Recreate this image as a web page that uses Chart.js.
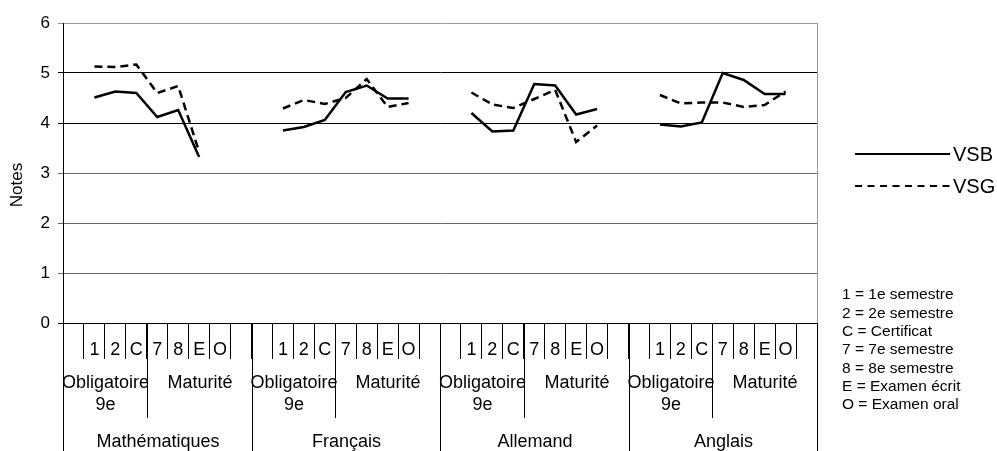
<!DOCTYPE html>
<html>
<head>
<meta charset="utf-8">
<script src="https://cdn.jsdelivr.net/npm/chart.js@4.4.0/dist/chart.umd.min.js"></script>
<style>
html, body { margin: 0; padding: 0; background: #fff; }
#wrap { width: 997px; height: 451px; }
</style>
</head>
<body>
<div id="wrap"><canvas id="myChart"></canvas></div>
<script>
const subjects = ['Mathématiques', 'Français', 'Allemand', 'Anglais'];
const periods = ['', '1', '2', 'C', '7', '8', 'E', 'O', ''];
const levels = ['Obligatoire', 'Maturité'];

// notes per subject, in order 1, 2, C, 7, 8, E, O
const vsbMath = [4.51, 4.63, 4.60, 4.12, 4.26, 3.32, null];
const vsgMath = [5.13, 5.12, 5.17, 4.60, 4.74, 3.42, null];
const vsbFr = [3.85, 3.92, 4.06, 4.62, 4.75, 4.49, 4.49];
const vsgFr = [4.29, 4.46, 4.38, 4.50, 4.88, 4.32, 4.40];
const vsbAll = [4.20, 3.83, 3.85, 4.78, 4.75, 4.17, 4.28];
const vsgAll = [4.61, 4.37, 4.30, 4.48, 4.66, 3.62, 3.95];
const vsbAng = [3.97, 3.93, 4.01, 5.00, 4.86, 4.58, 4.58];
const vsgAng = [4.56, 4.39, 4.41, 4.41, 4.32, 4.36, 4.63];

const notes = [
    '1 = 1e semestre',
    '2 = 2e semestre',
    'C = Certificat',
    '7 = 7e semestre',
    '8 = 8e semestre',
    'E = Examen écrit',
    'O = Examen oral'
];

const FONT = 'Liberation Sans, Arial, sans-serif';

// one blank slot before and after each subject
const labels = subjects.flatMap(() => periods);
const pad = arr => [null, ...arr, null];
const vsb = [vsbMath, vsbFr, vsbAll, vsbAng].flatMap(pad);
const vsg = [vsgMath, vsgFr, vsgAll, vsgAng].flatMap(pad);

const data = {
    labels: labels,
    datasets: [{
        label: 'VSB',
        data: vsb,
        borderColor: '#000',
        borderWidth: 2.5,
        pointRadius: 0,
        tension: 0,
        spanGaps: false
    }, {
        label: 'VSG',
        data: vsg,
        borderColor: '#000',
        borderWidth: 2.5,
        borderDash: [8, 5],
        pointRadius: 0,
        tension: 0,
        spanGaps: false
    }]
};

// group labels, boundary lines, legend and key
const extras = {
    id: 'extras',
    afterDraw(chart) {
        const ctx = chart.ctx;
        const xs = chart.scales.x;
        const area = chart.chartArea;
        const step = xs.getPixelForValue(1) - xs.getPixelForValue(0);
        const edge = i => Math.round(xs.getPixelForValue(i) - step / 2) + 0.5;
        const vline = (x, y0, y1) => {
            ctx.beginPath();
            ctx.moveTo(x, y0);
            ctx.lineTo(x, y1);
            ctx.stroke();
        };
        ctx.save();

        // right border of the plot
        ctx.strokeStyle = '#999';
        ctx.lineWidth = 1;
        vline(Math.round(area.right) + 0.5, area.top, area.bottom);

        ctx.strokeStyle = '#000';
        ctx.fillStyle = '#000';
        ctx.textAlign = 'center';
        ctx.textBaseline = 'middle';
        ctx.font = '18px ' + FONT;
        const n = periods.length;
        subjects.forEach((s, g) => {
            const a = g * n, b = a + 4, c = a + n;
            vline(edge(a), area.bottom, 451);
            vline(edge(b), area.bottom, 418);
            ctx.fillText(levels[0], (edge(a) + edge(b)) / 2, 383);
            ctx.fillText('9e', (edge(a) + edge(b)) / 2, 405);
            ctx.fillText(levels[1], (edge(b) + edge(c)) / 2, 383);
            ctx.fillText(s, (edge(a) + edge(c)) / 2, 442);
        });
        vline(edge(subjects.length * n), area.bottom, 451);

        // y title
        ctx.save();
        ctx.font = '17px ' + FONT;
        ctx.translate(17, 185);
        ctx.rotate(-Math.PI / 2);
        ctx.fillText('Notes', 0, 0);
        ctx.restore();

        // legend
        ctx.textAlign = 'left';
        ctx.font = '20px ' + FONT;
        chart.data.datasets.forEach((ds, i) => {
            const y = 154 + 32 * i;
            ctx.lineWidth = 2;
            ctx.setLineDash(ds.borderDash ? [7, 5.5] : []);
            ctx.beginPath();
            ctx.moveTo(855, y);
            ctx.lineTo(950, y);
            ctx.stroke();
            ctx.setLineDash([]);
            ctx.fillText(ds.label, 953, y + 1);
        });

        // key
        ctx.font = '15.5px ' + FONT;
        notes.forEach((t, i) => {
            ctx.fillText(t, 842, 295 + i * 18.33);
        });
        ctx.restore();
    }
};

const config = {
    type: 'line',
    data: data,
    options: {
        responsive: true,
        maintainAspectRatio: false,
        animation: false,
        devicePixelRatio: 1,
        layout: { padding: { top: 23, right: 180, left: 0, bottom: 0 } },
        plugins: {
            legend: { display: false },
            tooltip: { enabled: false }
        },
        scales: {
            x: {
                offset: true,
                grid: {
                    offset: true,
                    drawOnChartArea: false,
                    drawTicks: true,
                    tickLength: 36,
                    color: '#000'
                },
                border: { display: true, color: '#000', width: 1 },
                ticks: {
                    autoSkip: false,
                    maxRotation: 0,
                    padding: -20,
                    color: '#000',
                    font: { family: FONT, size: 18 }
                },
                afterFit(scale) { scale.height = 128; }
            },
            y: {
                min: 0,
                max: 6,
                ticks: {
                    stepSize: 1,
                    padding: 8,
                    color: '#000',
                    font: { family: FONT, size: 17 }
                },
                grid: {
                    tickLength: 5,
                    color: c => {
                        const v = c.tick ? c.tick.value : 0;
                        if (v === 6) return '#999';
                        if (v >= 1 && v <= 3) return '#666';
                        return '#000';
                    }
                },
                border: { display: true, color: '#000', width: 1 },
                afterFit(scale) { scale.width = 63; }
            }
        }
    },
    plugins: [extras]
};

// build chart
const myChart = new Chart(
    document.getElementById('myChart'),
    config
);
</script>
</body>
</html>
